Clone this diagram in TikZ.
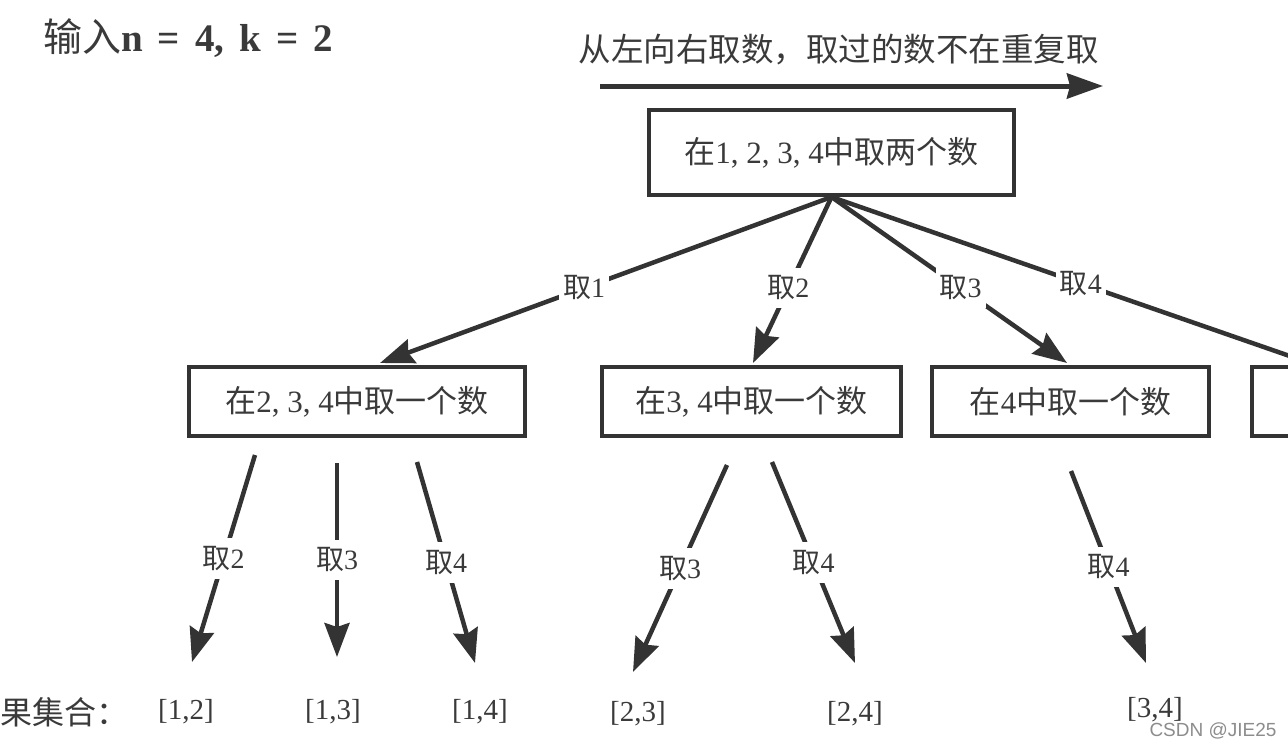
\documentclass[tikz,border=0pt]{standalone}
\usepackage{fontspec}
\setmainfont{Liberation Serif}
\newfontfamily\cjk{Noto Sans CJK SC}
\newfontfamily\wmfont{Liberation Sans}
\newfontfamily\titlefont[WordSpace=1.55]{Liberation Serif}
\usetikzlibrary{arrows.meta}
\definecolor{lineC}{HTML}{333333}
\definecolor{textC}{HTML}{3A3A3A}
\begin{document}
\begin{tikzpicture}[x=1pt,y=-1pt,
  box/.style={draw=lineC, line width=4pt, minimum height=69pt, inner sep=0pt, text=textC, font=\fontsize{31}{31}\selectfont},
  edge/.style={draw=lineC, line width=4.5pt, -{Stealth[length=34pt,width=25pt,inset=4pt]}},
  lbl/.style={fill=white, text=textC, inner xsep=4pt, inner ysep=8pt, font=\fontsize{28}{28}\selectfont},
  res/.style={text=textC, inner sep=0pt, font=\fontsize{29}{29}\selectfont},
]
\useasboundingbox (0,0) rectangle (1288,748);
\clip (0,0) rectangle (1288,748);

% title and direction
\node[anchor=west, inner sep=0pt, text=textC, font=\fontsize{39}{39}\selectfont] (title) at (43,38)
  {{\cjk 输入}{\titlefont\bfseries n = 4, k = 2}};
\node[inner sep=0pt, text=textC, font=\fontsize{32.5}{32.5}\selectfont] (dir) at (838.5,50)
  {\cjk 从左向右取数，取过的数不在重复取};
\coordinate (a0) at (600,86);
\coordinate (a1) at (1103,86);
\draw[draw=lineC, line width=5pt, -{Stealth[length=36pt,width=25pt,inset=3pt]}] (a0) -- (a1);

% boxes
\node[box, minimum width=365pt, minimum height=85pt] (root) at (831.5,152.5)
  {{\cjk 在}1, 2, 3, 4{\cjk 中取两个数}};
\node[box, minimum width=336pt] (b1) at (357,401.5) {{\cjk 在}2, 3, 4{\cjk 中取一个数}};
\node[box, minimum width=299pt] (b2) at (751.5,401.5) {{\cjk 在}3, 4{\cjk 中取一个数}};
\node[box, minimum width=277pt] (b3) at (1070.5,401.5) {{\cjk 在}4{\cjk 中取一个数}};
\node[box, minimum width=277pt] (b4) at (1390.5,401.5) {};

% first level edges
\coordinate (t1) at (380,363);
\coordinate (t2) at (753,363);
\coordinate (t3) at (1067,363);
\coordinate (t4) at (1330,370);
\draw[edge] (root.south) -- node[lbl, pos=0.548] (l1) {{\cjk 取}1} (t1);
\draw[edge] (root.south) -- node[lbl, pos=0.548] (l2) {{\cjk 取}2} (t2);
\draw[edge] (root.south) -- node[lbl, pos=0.548] (l3) {{\cjk 取}3} (t3);
\draw[edge] (root.south) -- node[lbl, pos=0.50] (l4) {{\cjk 取}4} (t4);

% second level edges
\coordinate (s12) at (255,455);  \coordinate (e12) at (192,662);
\coordinate (s13) at (337,463);  \coordinate (e13) at (337,657);
\coordinate (s14) at (417,462);  \coordinate (e14) at (475,663);
\coordinate (s23) at (727,465);  \coordinate (e23) at (633,672);
\coordinate (s24) at (772,462);  \coordinate (e24) at (855,663);
\coordinate (s34) at (1071,471); \coordinate (e34) at (1146,663);
\draw[edge] (s12) -- node[lbl] (m12) {{\cjk 取}2} (e12);
\draw[edge] (s13) -- node[lbl] (m13) {{\cjk 取}3} (e13);
\draw[edge] (s14) -- node[lbl] (m14) {{\cjk 取}4} (e14);
\draw[edge] (s23) -- node[lbl] (m23) {{\cjk 取}3} (e23);
\draw[edge] (s24) -- node[lbl] (m24) {{\cjk 取}4} (e24);
\draw[edge] (s34) -- node[lbl] (m34) {{\cjk 取}4} (e34);

% results
\node[res, anchor=west, font=\fontsize{32}{32}\selectfont] (rl) at (-32,712) {\cjk 结果集合：};
\node[res] (r12) at (186,712) {[1,2]};
\node[res] (r13) at (333,712) {[1,3]};
\node[res] (r14) at (480,712) {[1,4]};
\node[res] (r23) at (638,714) {[2,3]};
\node[res] (r24) at (855,714) {[2,4]};
\node[res] (r34) at (1155,710) {[3,4]};

% watermark
\node[inner sep=0pt, text=black!45, font=\wmfont\fontsize{19}{19}\selectfont] (wm) at (1213,731) {CSDN @JIE25};
\end{tikzpicture}
\end{document}
